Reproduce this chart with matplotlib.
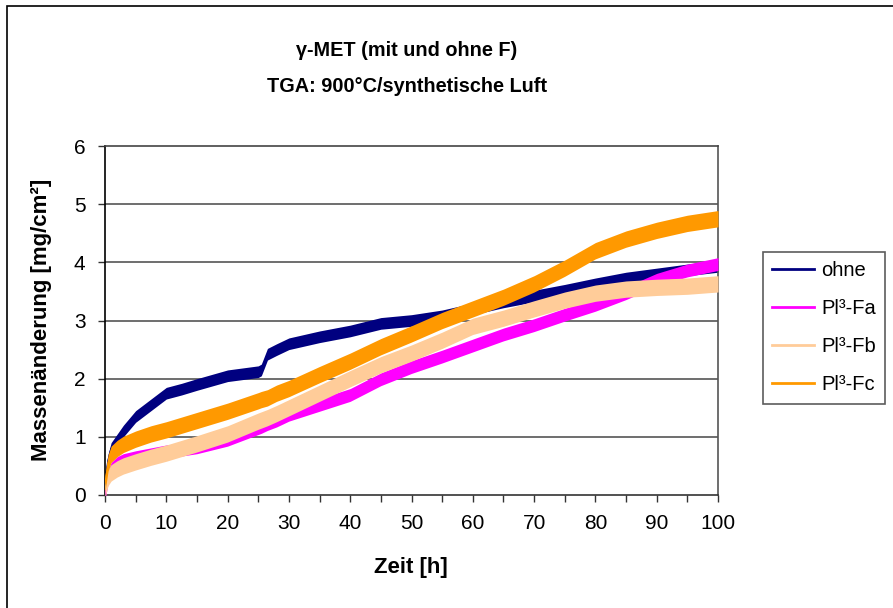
import matplotlib
matplotlib.use("Agg")
import matplotlib.pyplot as plt
from matplotlib.lines import Line2D
from matplotlib.patches import Rectangle
import numpy as np

plt.rcParams['font.family'] = ['Liberation Sans', 'DejaVu Sans']

# Time axis [h]
zeit = [0, 0.5, 1, 2, 3, 5, 7.5, 10, 12.5, 15, 20, 25, 25.5, 26.5, 28, 30,
        35, 40, 45, 50, 55, 60, 65, 70, 75, 80, 85, 90, 95, 100]

# Mass change [mg/cm²] (band centres)
ohne = [0.25, 0.6, 0.8, 0.95, 1.1, 1.35, 1.55, 1.75, 1.82, 1.9, 2.05, 2.12, 2.15, 2.42, 2.5, 2.6,
        2.72, 2.82, 2.95, 3.0, 3.08, 3.2, 3.32, 3.42, 3.52, 3.63, 3.73, 3.8, 3.87, 3.93]
pl_fa = [0.03, 0.3, 0.45, 0.55, 0.6, 0.65, 0.7, 0.75, 0.78, 0.82, 0.95, 1.15, 1.17, 1.22, 1.28, 1.38,
         1.55, 1.72, 1.99, 2.2, 2.38, 2.57, 2.76, 2.92, 3.1, 3.27, 3.47, 3.7, 3.86, 3.97]
pl_fb = [0.1, 0.3, 0.38, 0.45, 0.5, 0.57, 0.65, 0.72, 0.8, 0.88, 1.05, 1.27, 1.29, 1.33, 1.4, 1.5,
         1.75, 2.0, 2.24, 2.44, 2.66, 2.9, 3.04, 3.2, 3.35, 3.47, 3.54, 3.57, 3.59, 3.63]
pl_fc = [0.2, 0.55, 0.7, 0.8, 0.87, 0.96, 1.05, 1.12, 1.2, 1.28, 1.44, 1.62, 1.64, 1.67, 1.75, 1.83,
         2.07, 2.3, 2.55, 2.77, 3.0, 3.2, 3.4, 3.63, 3.9, 4.2, 4.4, 4.55, 4.67, 4.75]

# Approximate half-width of the noise band of each measurement
band_halfwidth = {'ohne': 0.1, 'Pl³-Fa': 0.11, 'Pl³-Fb': 0.14, 'Pl³-Fc': 0.14}

series_names = ['ohne', 'Pl³-Fa', 'Pl³-Fb', 'Pl³-Fc']
series_values = [ohne, pl_fa, pl_fb, pl_fc]
series_colors = ['#000080', '#FF00FF', '#FFCC99', '#FF9900']

x_ticks = [0, 10, 20, 30, 40, 50, 60, 70, 80, 90, 100]
y_ticks = [0, 1, 2, 3, 4, 5, 6]

W, H = 893, 608
fig = plt.figure(figsize=(W / 100, H / 100), dpi=100)
fig.patch.set_facecolor('white')

# outer chart frame
fig.patches.append(Rectangle((7 / W, -0.05), 1.2, 1 - 6 / H + 0.05, transform=fig.transFigure,
                             fill=False, edgecolor='black', linewidth=1.2, zorder=0))

L, R, T, B = 105, 718, 146, 495
ax = fig.add_axes([L / W, 1 - B / H, (R - L) / W, (B - T) / H])

z = 2
for name, vals, col in zip(series_names, series_values, series_colors):
    v = np.array(vals)
    hw = band_halfwidth[name]
    ax.fill_between(zeit, v - hw, v + hw, color=col, linewidth=0, zorder=z)
    ax.plot(zeit, v, color=col, linewidth=1.0, zorder=z)
    z += 1

ax.set_xlim(0, 100)
ax.set_ylim(0, 6)
ax.set_xticks(x_ticks)
ax.set_xticks([5, 15, 25, 35, 45, 55, 65, 75, 85, 95], minor=True)
ax.set_yticks(y_ticks)
ax.tick_params(axis='both', which='both', direction='out', length=5, width=1, colors='#333333',
               labelsize=15, labelcolor='black', pad=9)
for gy in y_ticks[1:-1]:
    ax.axhline(gy, color='#555555', linewidth=1.2, zorder=1)

ax.spines['left'].set_color('black')
ax.spines['bottom'].set_color('#333333')
ax.spines['top'].set_color('#444444')
ax.spines['right'].set_color('#555555')
for s in ax.spines.values():
    s.set_linewidth(1.2)

fig.text(407 / W, 1 - 50 / H, 'γ-MET (mit und ohne F)', ha='center', va='center',
         fontsize=14.3, fontweight='bold')
fig.text(407 / W, 1 - 86 / H, 'TGA: 900°C/synthetische Luft', ha='center', va='center',
         fontsize=14.3, fontweight='bold')

fig.text(411 / W, 1 - 568 / H, 'Zeit [h]', ha='center', va='center', fontsize=16, fontweight='bold')
fig.text(42 / W, 1 - 320 / H, 'Massenänderung [mg/cm²]', ha='center', va='center',
         rotation=90, fontsize=16, fontweight='bold')

handles = [Line2D([0], [0], color=c, linewidth=2) for c in series_colors]
leg = fig.legend(handles, series_names, loc='upper left', bbox_to_anchor=(763 / W, 1 - 252 / H),
                 frameon=True, fancybox=False, shadow=False, fontsize=14.5, handlelength=2.1,
                 handletextpad=0.35, labelspacing=0.95, borderpad=0.45, borderaxespad=0)
leg.get_frame().set_edgecolor('#333333')
leg.get_frame().set_linewidth(1.2)

fig.savefig('out.png', dpi=100, facecolor='white')
